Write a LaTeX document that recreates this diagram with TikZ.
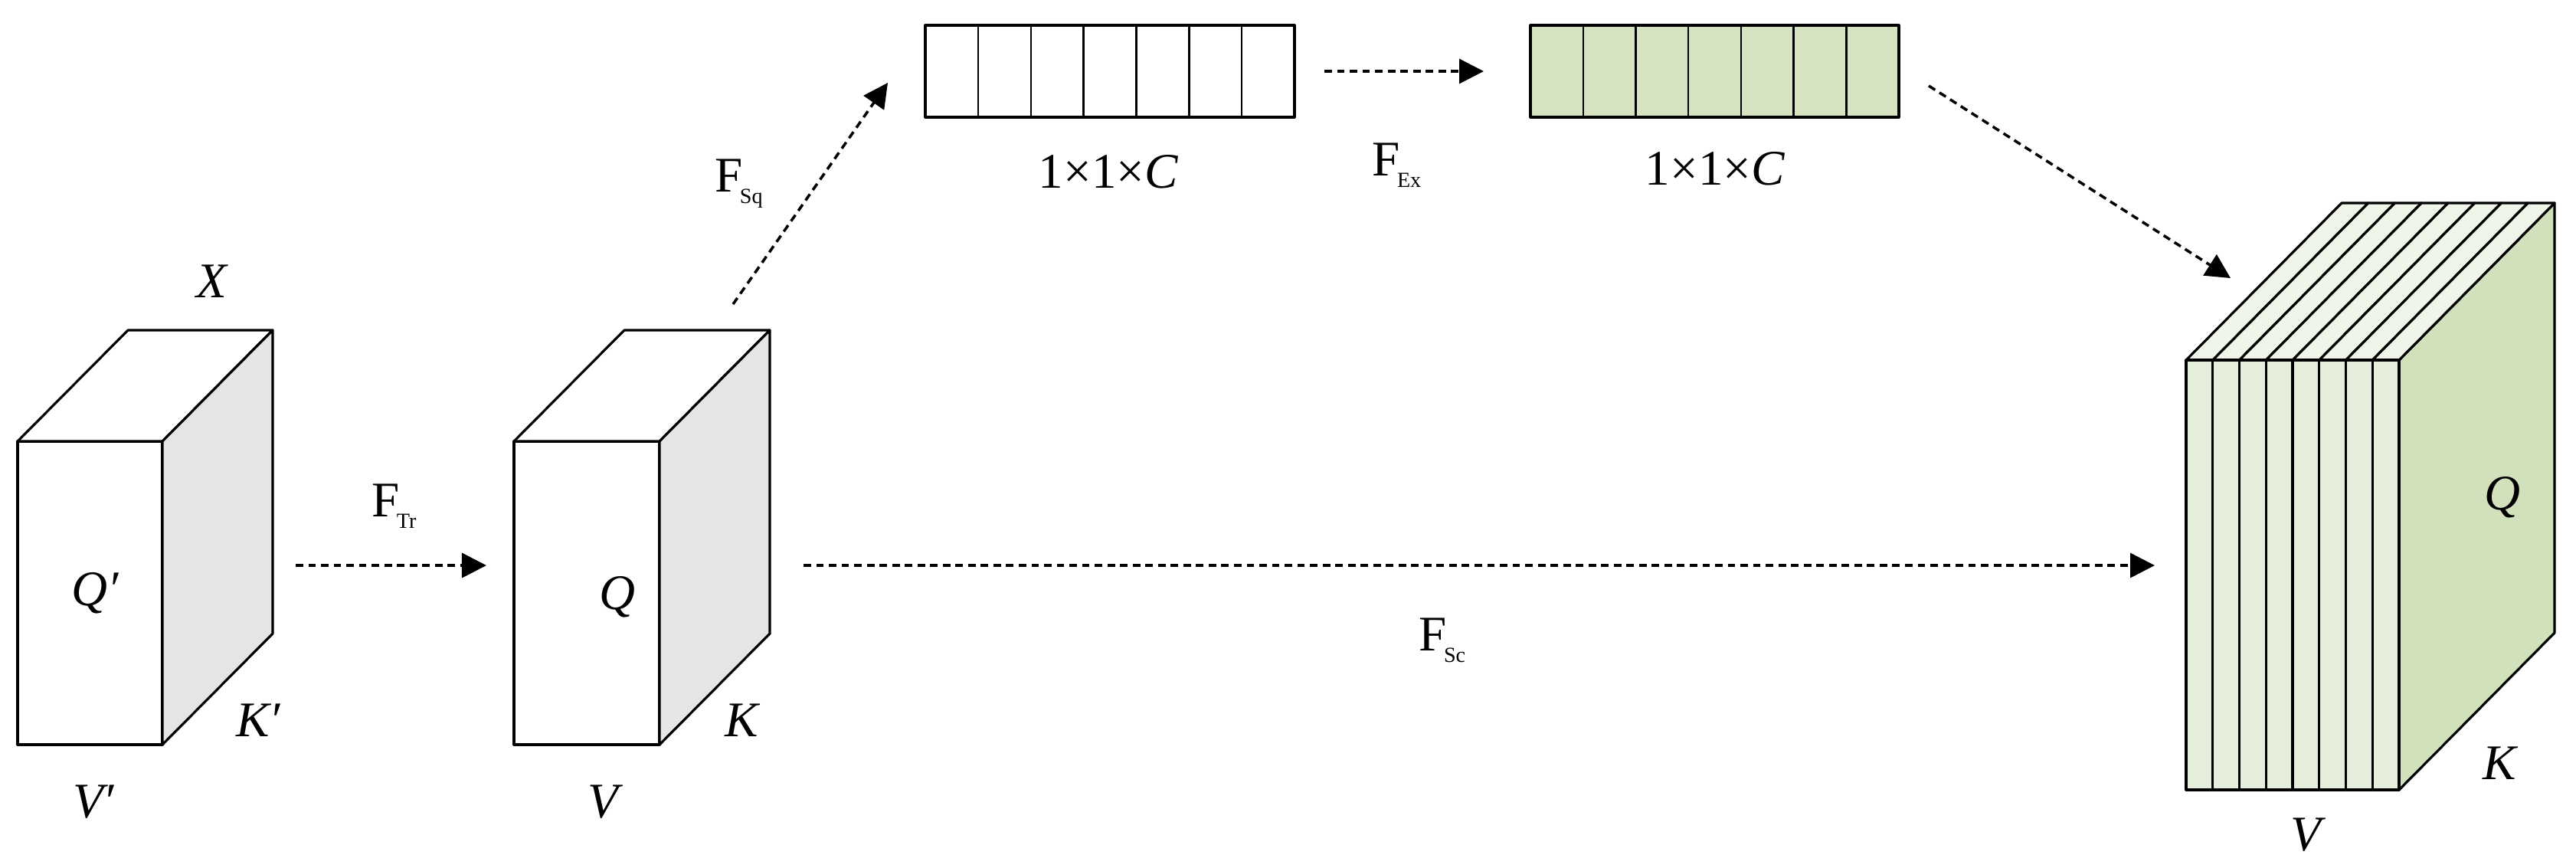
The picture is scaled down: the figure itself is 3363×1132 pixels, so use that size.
\documentclass[tikz,border=0pt]{standalone}
\usepackage{fontspec}
\setmainfont{Liberation Serif}
\usetikzlibrary{arrows.meta}
\definecolor{slicefront}{HTML}{E6EFDC}
\definecolor{slicetop}{HTML}{F0F5EA}
\definecolor{cubeside}{HTML}{D0E1BC}
\definecolor{cellgreen}{HTML}{D5E3C0}
\definecolor{boxside}{HTML}{E5E5E5}
\tikzset{
  flow/.style={line width=1pt,dash pattern=on 2.8pt off 1.9pt,-{Triangle[length=3.2mm,width=3.2mm]}},
  edge/.style={line width=0.9pt,line join=round},
  lbl/.style={font=\fontsize{18.5}{22}\selectfont\itshape,inner sep=0pt,anchor=base},
  fname/.style={font=\fontsize{18.5}{22}\selectfont,inner sep=0pt,anchor=base west}
}
\newcommand{\fsub}[1]{F\kern-0.06em\raisebox{-4.5pt}{\fontsize{8}{10}\selectfont #1}}
\begin{document}
\begin{tikzpicture}[x=.01cm,y=-.01cm]
\useasboundingbox (0,0) rectangle (3363,1132);
% input block
\draw[edge,fill=white] (23,576) rectangle (212,972);
\draw[edge,fill=white] (23,576) -- (167,431) -- (356,431) -- (212,576) -- cycle;
\draw[edge,fill=boxside] (212,576) -- (356,431) -- (356,827) -- (212,972) -- cycle;
% transformed block
\draw[edge,fill=white] (671,576) rectangle (861,972);
\draw[edge,fill=white] (671,576) -- (815,431) -- (1005,431) -- (861,576) -- cycle;
\draw[edge,fill=boxside] (861,576) -- (1005,431) -- (1005,827) -- (861,972) -- cycle;
% channel vectors
\draw[edge,fill=white] (1208,33) rectangle (1690,153);
\foreach \i in {1,...,6}
  \draw[line width=0.7pt] (1208+\i*68.86,33) -- ++(0,120);
\draw[edge,fill=cellgreen] (1998,33) rectangle (2479,153);
\foreach \i in {1,...,6}
  \draw[line width=0.7pt] (1998+\i*68.71,33) -- ++(0,120);
% rescaled block
\draw[edge,fill=cubeside] (3132,470) -- (3335,265) -- (3335,826) -- (3132,1031) -- cycle;
\foreach \i in {0,...,7}{
  \draw[edge,fill=slicetop] (2854+\i*34.75,470) -- ++(203,-205) -- ++(34.75,0) -- ++(-203,205) -- cycle;
  \draw[edge,fill=slicefront] (2854+\i*34.75,470) rectangle ++(34.75,561);
}
% labels
\node[lbl] (x) at (276,388) {X};
\node[lbl] (qin) at (124,790) {Q′};
\node[lbl] (kin) at (337,961) {K′};
\node[lbl] (vin) at (122,1067) {V′};
\node[lbl] (qmid) at (806,795) {Q};
\node[lbl] (kmid) at (968,961) {K};
\node[lbl] (vmid) at (787,1067) {V};
\node[lbl] (qout) at (3267,665) {Q};
\node[lbl] (kout) at (3263,1017) {K};
\node[lbl] (vout) at (3010,1110) {V};
\node[fname,anchor=base] (c1) at (1447,245) {1×1×\textit{C}};
\node[fname,anchor=base] (c2) at (2239,241) {1×1×\textit{C}};
\node[fname] (ftr) at (485,674) {\fsub{Tr}};
\node[fname] (fsq) at (933,250) {\fsub{Sq}};
\node[fname] (fex) at (1791,229) {\fsub{Ex}};
\node[fname] (fsc) at (1852,849) {\fsub{Sc}};
% arrows
\coordinate (tr-s) at (386,738);
\coordinate (tr-e) at (635,738);
\coordinate (sc-s) at (1049,738);
\coordinate (sc-e) at (2813,738);
\coordinate (sq-s) at (957,397);
\coordinate (sq-e) at (1159,108);
\coordinate (ex-s) at (1729,93);
\coordinate (ex-e) at (1937,93);
\coordinate (ec-s) at (2518,112);
\coordinate (ec-e) at (2912,363);
\draw[flow] (tr-s) -- (tr-e);
\draw[flow] (sc-s) -- (sc-e);
\draw[flow] (sq-s) -- (sq-e);
\draw[flow] (ex-s) -- (ex-e);
\draw[flow] (ec-s) -- (ec-e);
\end{tikzpicture}
\end{document}
